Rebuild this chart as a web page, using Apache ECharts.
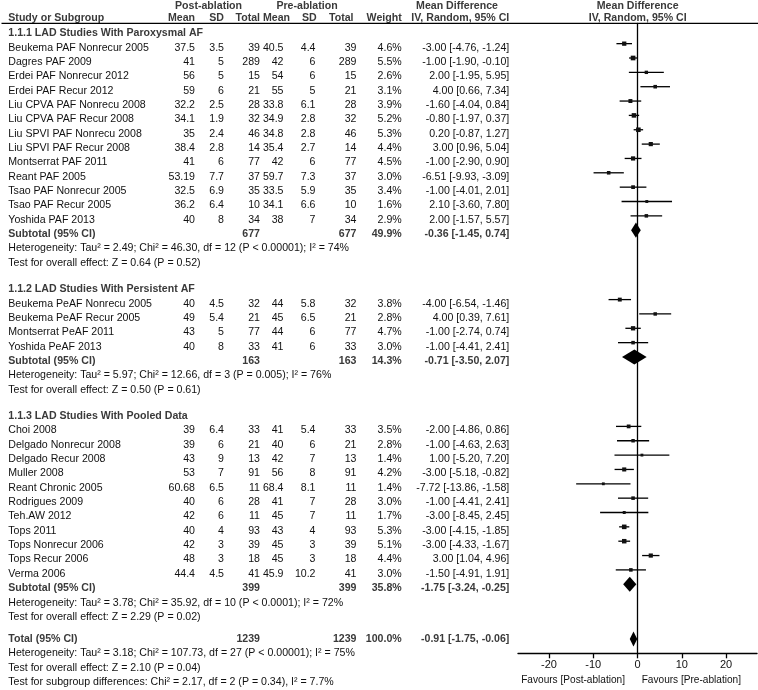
<!DOCTYPE html>
<html><head><meta charset="utf-8">
<script src="https://cdn.jsdelivr.net/npm/echarts@6/dist/echarts.min.js"></script>
<style>html,body{margin:0;padding:0;background:#fff}#c{width:758px;height:690px}</style>
</head><body><div id="c"></div>
<script>
// ---------- DATA ----------
const groupTitles = ["1.1.1 LAD Studies With Paroxysmal AF", "1.1.2 LAD Studies With Persistent AF", "1.1.3 LAD Studies With Pooled Data"];

const names1 = ["Beukema PAF Nonrecur 2005","Dagres PAF 2009","Erdei PAF Nonrecur 2012","Erdei PAF Recur 2012","Liu CPVA PAF Nonrecu 2008","Liu CPVA PAF Recur 2008","Liu SPVI PAF Nonrecu 2008","Liu SPVI PAF Recur 2008","Montserrat PAF 2011","Reant PAF 2005","Tsao PAF Nonrecur 2005","Tsao PAF Recur 2005","Yoshida PAF 2013"];
const postMean1 = [37.5,41,56,59,32.2,34.1,35,38.4,41,53.19,32.5,36.2,40];
const postSD1   = [3.5,5,5,6,2.5,1.9,2.4,2.8,6,7.7,6.9,6.4,8];
const postN1    = [39,289,15,21,28,32,46,14,77,37,35,10,34];
const preMean1  = [40.5,42,54,55,33.8,34.9,34.8,35.4,42,59.7,33.5,34.1,38];
const preSD1    = [4.4,6,6,5,6.1,2.8,2.8,2.7,6,7.3,5.9,6.6,7];
const preN1     = [39,289,15,21,28,32,46,14,77,37,35,10,34];
const weight1   = [4.6,5.5,2.6,3.1,3.9,5.2,5.3,4.4,4.5,3.0,3.4,1.6,2.9];
const md1       = [-3.00,-1.00,2.00,4.00,-1.60,-0.80,0.20,3.00,-1.00,-6.51,-1.00,2.10,2.00];
const lo1       = [-4.76,-1.90,-1.95,0.66,-4.04,-1.97,-0.87,0.96,-2.90,-9.93,-4.01,-3.60,-1.57];
const hi1       = [-1.24,-0.10,5.95,7.34,0.84,0.37,1.27,5.04,0.90,-3.09,2.01,7.80,5.57];
const sub1      = {n1:677, n2:677, w:49.9, md:-0.36, lo:-1.45, hi:0.74};
const het1 = "Heterogeneity: Tau² = 2.49; Chi² = 46.30, df = 12 (P < 0.00001); I² = 74%";
const test1 = "Test for overall effect: Z = 0.64 (P = 0.52)";

const names2 = ["Beukema PeAF Nonrecu 2005","Beukema PeAF Recur 2005","Montserrat PeAF 2011","Yoshida PeAF 2013"];
const postMean2 = [40,49,43,40];
const postSD2   = [4.5,5.4,5,8];
const postN2    = [32,21,77,33];
const preMean2  = [44,45,44,41];
const preSD2    = [5.8,6.5,6,6];
const preN2     = [32,21,77,33];
const weight2   = [3.8,2.8,4.7,3.0];
const md2       = [-4.00,4.00,-1.00,-1.00];
const lo2       = [-6.54,0.39,-2.74,-4.41];
const hi2       = [-1.46,7.61,0.74,2.41];
const sub2      = {n1:163, n2:163, w:14.3, md:-0.71, lo:-3.50, hi:2.07};
const het2 = "Heterogeneity: Tau² = 5.97; Chi² = 12.66, df = 3 (P = 0.005); I² = 76%";
const test2 = "Test for overall effect: Z = 0.50 (P = 0.61)";

const names3 = ["Choi 2008","Delgado Nonrecur 2008","Delgado Recur 2008","Muller 2008","Reant Chronic 2005","Rodrigues 2009","Teh.AW 2012","Tops 2011","Tops Nonrecur 2006","Tops Recur 2006","Verma 2006"];
const postMean3 = [39,39,43,53,60.68,40,42,40,42,48,44.4];
const postSD3   = [6.4,6,9,7,6.5,6,6,4,3,3,4.5];
const postN3    = [33,21,13,91,11,28,11,93,39,18,41];
const preMean3  = [41,40,42,56,68.4,41,45,43,45,45,45.9];
const preSD3    = [5.4,6,7,8,8.1,7,7,4,3,3,10.2];
const preN3     = [33,21,13,91,11,28,11,93,39,18,41];
const weight3   = [3.5,2.8,1.4,4.2,1.4,3.0,1.7,5.3,5.1,4.4,3.0];
const md3       = [-2.00,-1.00,1.00,-3.00,-7.72,-1.00,-3.00,-3.00,-3.00,3.00,-1.50];
const lo3       = [-4.86,-4.63,-5.20,-5.18,-13.86,-4.41,-8.45,-4.15,-4.33,1.04,-4.91];
const hi3       = [0.86,2.63,7.20,-0.82,-1.58,2.41,2.45,-1.85,-1.67,4.96,1.91];
const sub3      = {n1:399, n2:399, w:35.8, md:-1.75, lo:-3.24, hi:-0.25};
const het3 = "Heterogeneity: Tau² = 3.78; Chi² = 35.92, df = 10 (P < 0.0001); I² = 72%";
const test3 = "Test for overall effect: Z = 2.29 (P = 0.02)";

const total = {n1:1239, n2:1239, w:100.0, md:-0.91, lo:-1.75, hi:-0.06};
const hetT = "Heterogeneity: Tau² = 3.18; Chi² = 107.73, df = 27 (P < 0.00001); I² = 75%";
const testT = "Test for overall effect: Z = 2.10 (P = 0.04)";
const testSub = "Test for subgroup differences: Chi² = 2.17, df = 2 (P = 0.34), I² = 7.7%";

const xTicks = [-20,-10,0,10,20];
const favLeft = "Favours [Post-ablation]";
const favRight = "Favours [Pre-ablation]";

// ---------- LAYOUT ----------
const FS = 10.6;
const FONT = FS + "px 'Liberation Sans', Arial, sans-serif";
const BFONT = "bold " + FONT;
const TXT = "#111", BTXT = "#3a3a3a";
const col = {name:8.3, pm:195, ps:224, pn:260, qm:283.5, qs:315.5, qn:356.5, w:401.7, ci:509.3};
const rowH = 14.35, top0 = 33.3, groupGap = 12, totalGap = 7.7, markOff = -4;
const gridTop = 23.3, axisY = 653.3, plotLeft = 518, plotRight = 757;

const graphics = [];
function txt(s, x, y, align, bold) {
  graphics.push({type:'text', x:x, y:y, silent:true,
    style:{text:String(s), font: bold?BFONT:FONT, fill: bold?BTXT:TXT,
      textAlign:align||'left', textVerticalAlign:'middle', align:align||'left', verticalAlign:'middle'}});
}
const ciStr = (m,l,h) => m.toFixed(2) + " [" + l.toFixed(2) + ", " + h.toFixed(2) + "]";

let idx = 0, extra = 0;
const nextY = () => top0 + rowH * (idx++) + extra;

const studyData = [], diamondData = [];
const groups = [
  [names1,postMean1,postSD1,postN1,preMean1,preSD1,preN1,weight1,md1,lo1,hi1,sub1,het1,test1],
  [names2,postMean2,postSD2,postN2,preMean2,preSD2,preN2,weight2,md2,lo2,hi2,sub2,het2,test2],
  [names3,postMean3,postSD3,postN3,preMean3,preSD3,preN3,weight3,md3,lo3,hi3,sub3,het3,test3]
];
groups.forEach((g, gi) => {
  const [nm,pm,ps,pn,qm,qs,qn,w,md,lo,hi,sub,het,tst] = g;
  txt(groupTitles[gi], col.name, nextY(), 'left', true);
  nm.forEach((n, i) => {
    const y = nextY();
    txt(n, col.name, y, 'left');
    txt(pm[i], col.pm, y, 'right'); txt(ps[i], col.ps, y, 'right'); txt(pn[i], col.pn, y, 'right');
    txt(qm[i], col.qm, y, 'right'); txt(qs[i], col.qs, y, 'right'); txt(qn[i], col.qn, y, 'right');
    txt(w[i].toFixed(1) + "%", col.w, y, 'right');
    txt(ciStr(md[i], lo[i], hi[i]), col.ci, y, 'right');
    studyData.push([lo[i], hi[i], md[i], y + markOff, w[i]]);
  });
  const ys = nextY();
  txt("Subtotal (95% CI)", col.name, ys, 'left', true);
  txt(sub.n1, col.pn, ys, 'right', true); txt(sub.n2, col.qn, ys, 'right', true);
  txt(sub.w.toFixed(1) + "%", col.w, ys, 'right', true);
  txt(ciStr(sub.md, sub.lo, sub.hi), col.ci, ys, 'right', true);
  diamondData.push([sub.lo, sub.hi, sub.md, ys + markOff]);
  txt(het, col.name, nextY(), 'left');
  txt(tst, col.name, nextY(), 'left');
  extra += (gi < 2 ? groupGap : totalGap);
});
const yT = nextY();
txt("Total (95% CI)", col.name, yT, 'left', true);
txt(total.n1, col.pn, yT, 'right', true); txt(total.n2, col.qn, yT, 'right', true);
txt(total.w.toFixed(1) + "%", col.w, yT, 'right', true);
txt(ciStr(total.md, total.lo, total.hi), col.ci, yT, 'right', true);
diamondData.push([total.lo, total.hi, total.md, yT]);
txt(hetT, col.name, nextY(), 'left');
txt(testT, col.name, nextY(), 'left');
txt(testSub, col.name, nextY(), 'left');

// header
const h1 = 5.8, h2 = 18;
txt("Post-ablation", 208.5, h1, 'center', true);
txt("Pre-ablation", 307, h1, 'center', true);
txt("Mean Difference", 457, h1, 'center', true);
txt("Mean Difference", 637.7, h1, 'center', true);
txt("Study or Subgroup", col.name, h2, 'left', true);
txt("Mean", 195, h2, 'right', true);
txt("SD", 224, h2, 'right', true);
txt("Total", 260, h2, 'right', true);
txt("Mean", 290, h2, 'right', true);
txt("SD", 316.7, h2, 'right', true);
txt("Total", 353.5, h2, 'right', true);
txt("Weight", 401.7, h2, 'right', true);
txt("IV, Random, 95% CI", 460.3, h2, 'center', true);
txt("IV, Random, 95% CI", 637.7, h2, 'center', true);
graphics.push({type:'line', silent:true, shape:{x1:1.5, y1:gridTop, x2:758, y2:gridTop}, style:{stroke:'#000', lineWidth:1.2}});
// favours labels
graphics.push({type:'text', x:625, y:680, silent:true, style:{text:favLeft, font:"10.1px 'Liberation Sans', Arial, sans-serif", fill:TXT, textAlign:'right', align:'right', textVerticalAlign:'middle', verticalAlign:'middle'}});
graphics.push({type:'text', x:641.7, y:680, silent:true, style:{text:favRight, font:"10.1px 'Liberation Sans', Arial, sans-serif", fill:TXT, textAlign:'left', align:'left', textVerticalAlign:'middle', verticalAlign:'middle'}});

// ---------- CHART ----------
const chart = echarts.init(document.getElementById('c'), null, {renderer:'canvas'});
chart.setOption({
  animation:false,
  backgroundColor:'#fff',
  grid:{left:plotLeft, width:plotRight-plotLeft, top:gridTop, height:axisY-gridTop, containLabel:false},
  xAxis:{type:'value', min:-27, max:27,
    axisLine:{show:true, onZero:false, lineStyle:{color:'#000', width:1.4}},
    axisTick:{show:true, length:5, customValues:xTicks, lineStyle:{color:'#000', width:1.3}},
    axisLabel:{show:true, customValues:xTicks, margin:6, fontSize:11, color:TXT, fontFamily:"'Liberation Sans', Arial, sans-serif"},
    splitLine:{show:false}},
  yAxis:{type:'value', inverse:true, min:gridTop, max:axisY,
    axisLine:{show:true, onZero:true, lineStyle:{color:'#000', width:1.3}},
    axisTick:{show:false}, axisLabel:{show:false}, splitLine:{show:false}},
  graphic: graphics,
  series:[
    {type:'custom', clip:false, data:studyData, encode:{x:[0,1,2], y:3},
     renderItem:(p, api) => {
       const y = api.value(3);
       const a = api.coord([api.value(0), y]), b = api.coord([api.value(1), y]), c = api.coord([api.value(2), y]);
       const s = 2.2 + 0.45 * api.value(4);
       return {type:'group', children:[
         {type:'line', shape:{x1:a[0], y1:a[1], x2:b[0], y2:b[1]}, style:{stroke:'#000', lineWidth:1.3}},
         {type:'rect', shape:{x:c[0]-s/2, y:c[1]-s/2, width:s, height:s}, style:{fill:'#111'}}
       ]};
     }},
    {type:'custom', clip:false, data:diamondData, encode:{x:[0,1,2], y:3},
     renderItem:(p, api) => {
       const y = api.value(3);
       const a = api.coord([api.value(0), y]), b = api.coord([api.value(1), y]), c = api.coord([api.value(2), y]);
       const h = 7.6;
       return {type:'polygon', shape:{points:[[a[0],a[1]],[c[0],c[1]-h],[b[0],b[1]],[c[0],c[1]+h]]}, style:{fill:'#000'}};
     }}
  ]
});
</script></body></html>
